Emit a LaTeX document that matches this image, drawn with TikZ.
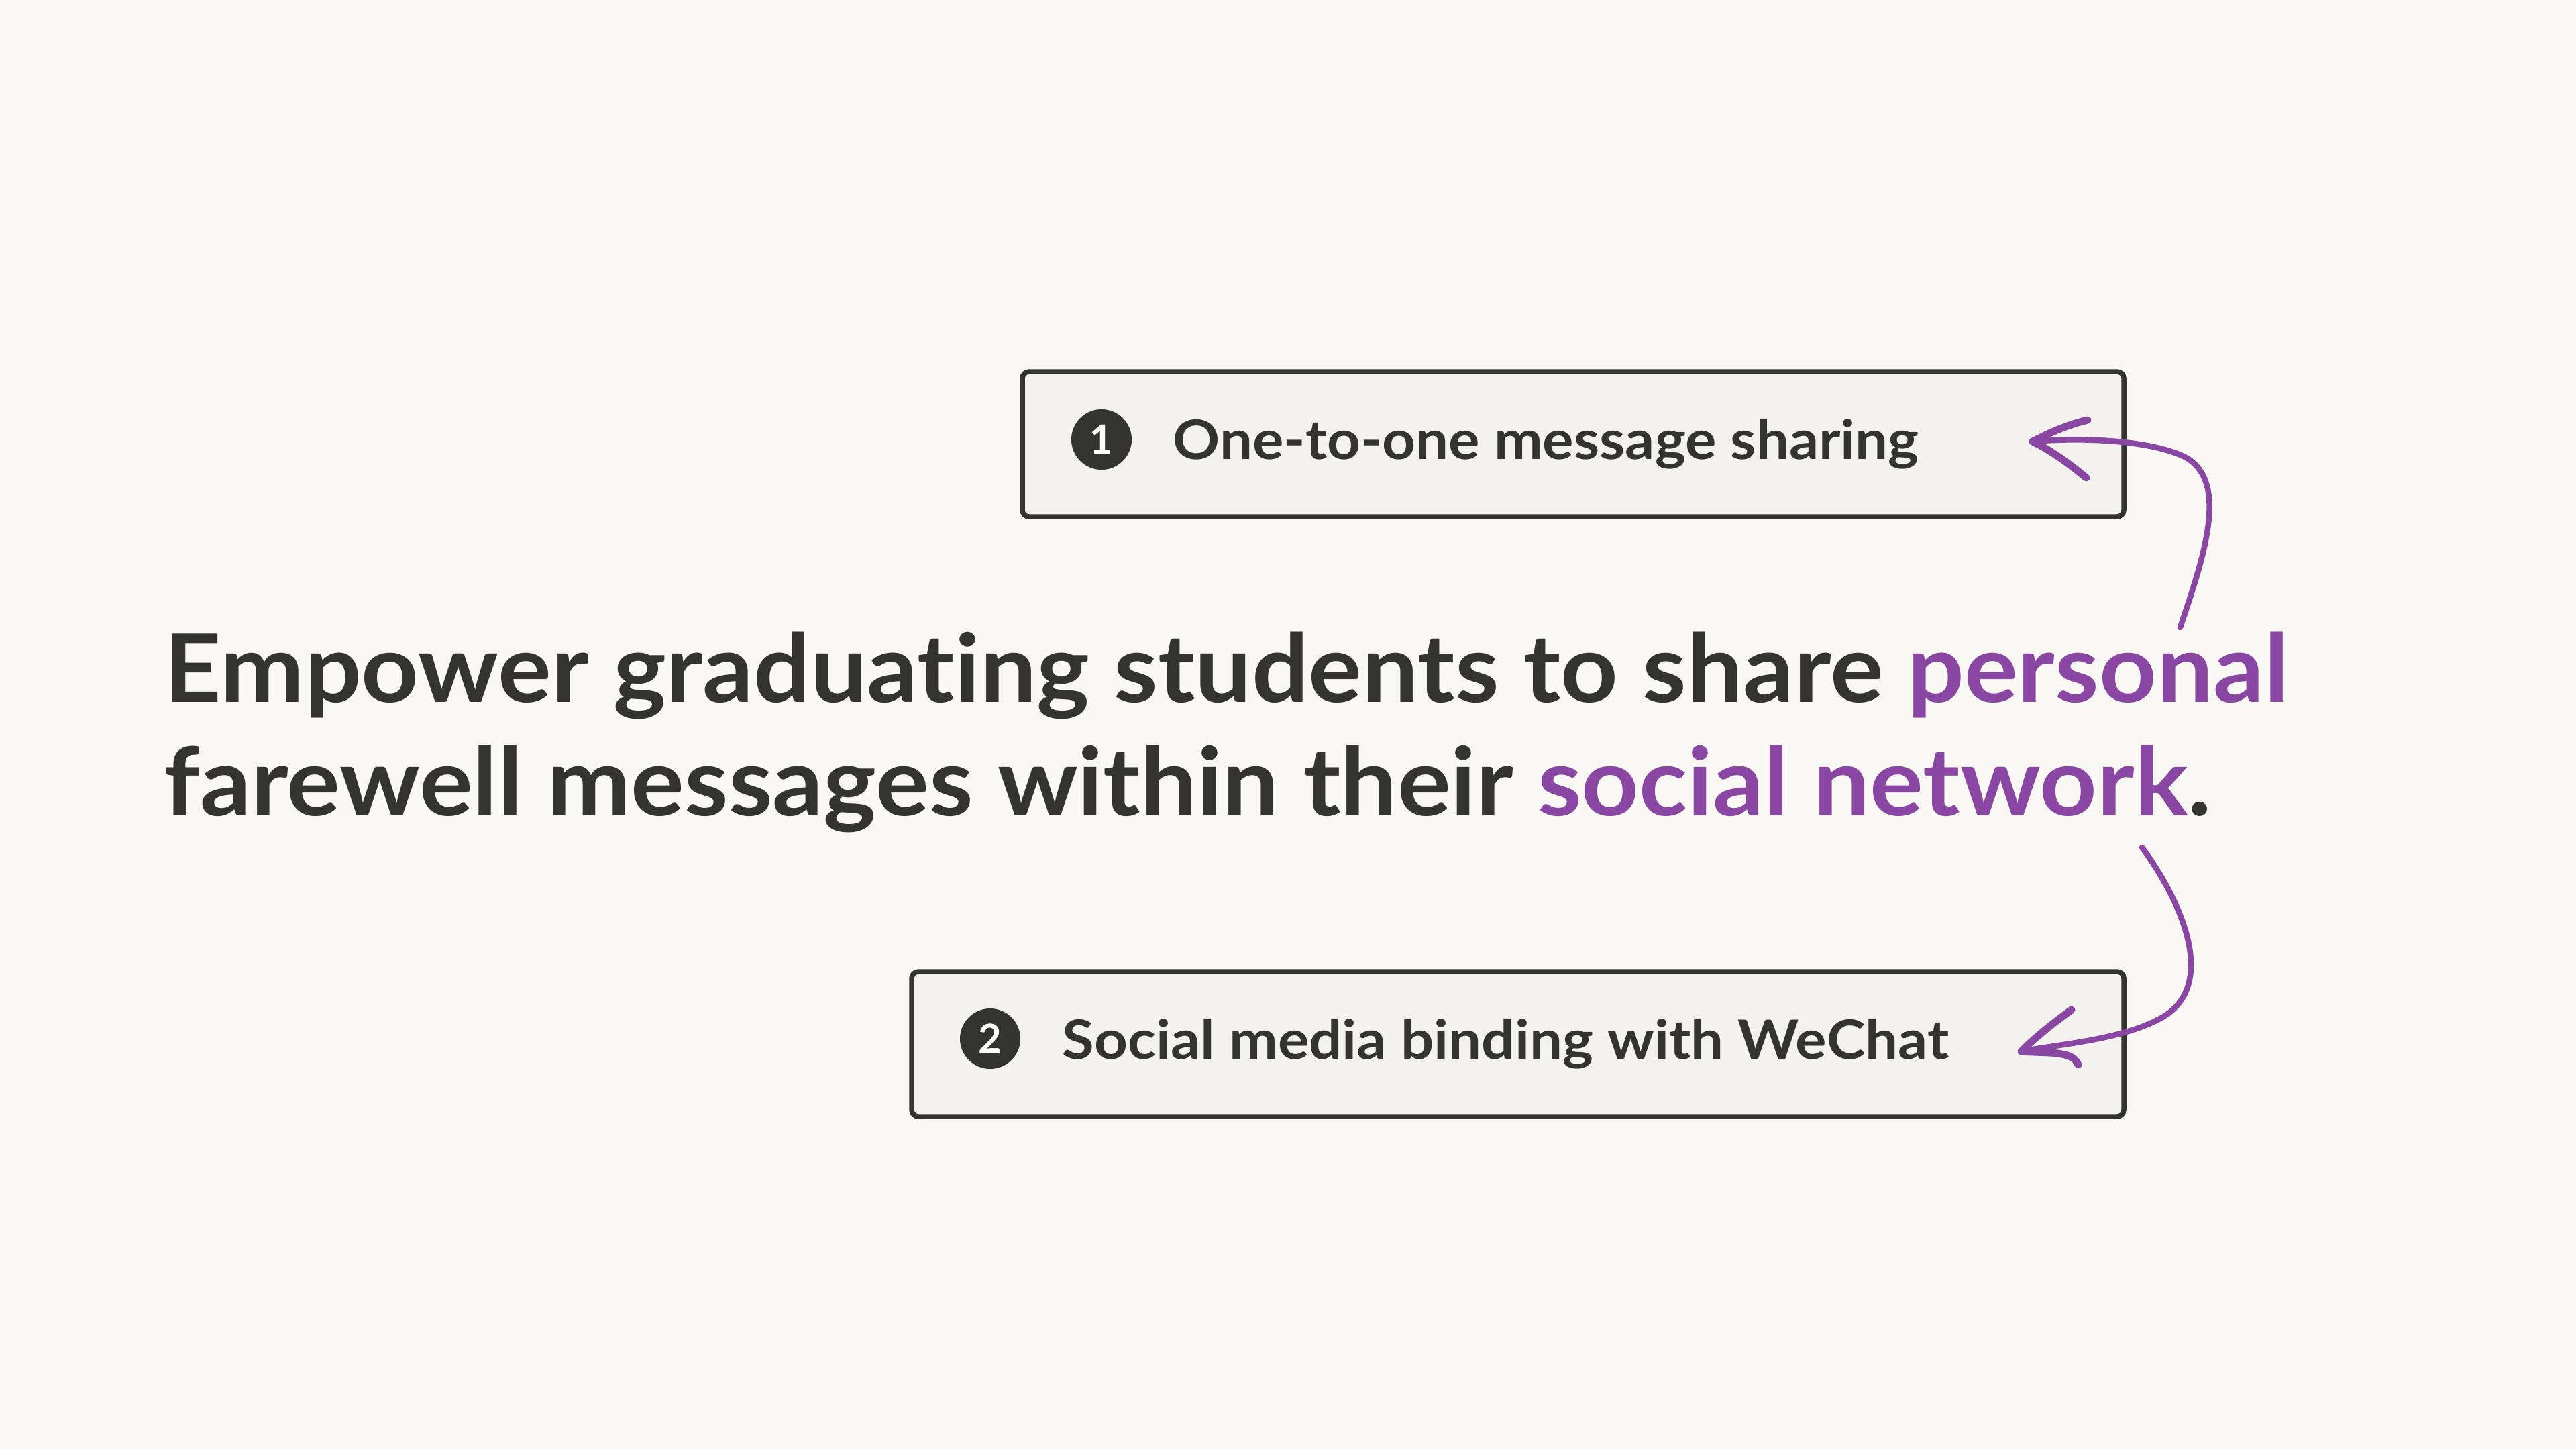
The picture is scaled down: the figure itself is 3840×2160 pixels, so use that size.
\documentclass[tikz,border=0pt]{standalone}
\usepackage{fontspec}
\setmainfont{Lato}[Ligatures=NoCommon]
\definecolor{bg}{HTML}{F9F8F5}
\definecolor{boxfill}{HTML}{F3F2EE}
\definecolor{ink}{HTML}{333330}
\definecolor{accent}{HTML}{8A46A3}
\newcommand{\wide}[1]{\scalebox{1.075}[1]{#1}}
\newcommand{\headwide}[1]{\scalebox{1.062}[1]{#1}}
\tikzset{
  featurebox/.style={draw=ink, line width=0.075cm, fill=boxfill, rounded corners=0.1cm},
  numdot/.style={circle, fill=ink, minimum size=0.9cm, inner sep=0pt, text=white, font=\fontsize{17}{20}\selectfont\bfseries},
  boxlabel/.style={anchor=base west, inner sep=0pt, text=ink, font=\fontsize{23}{27}\selectfont\bfseries},
  headline/.style={anchor=base west, inner sep=0pt, text=ink, font=\fontsize{40}{48}\selectfont\bfseries},
  curvearrow/.style={draw=accent, line width=0.085cm, line cap=round, line join=round},
  arrowtip/.style={draw=accent, line width=0.11cm, line cap=round, line join=round},
}
\begin{document}
\begin{tikzpicture}[x=0.01cm, y=-0.01cm]
\fill[bg] (0,0) rectangle (3840,2160);
\useasboundingbox (0,0) rectangle (3840,2160);
% boxes
\path[featurebox] (1524,554) rectangle (3166,770);
\path[featurebox] (1359,1448) rectangle (3166,1664);
\node[numdot] (n1) at (1642,655) {1};
\node[boxlabel] (t1) at (1748,684) {\wide{One-to-one message sharing}};
\node[numdot] (n2) at (1476,1548) {2};
\node[boxlabel] (t2) at (1583,1578) {\wide{Social media binding with WeChat}};
% headline
\node[headline] (h1) at (244,1046) {\headwide{Empower graduating students to share \textcolor{accent}{personal}}};
\node[headline] (h2) at (244,1215) {\headwide{farewell messages within their \textcolor{accent}{social network}.}};
% arrow 1
\coordinate (a1s) at (3250,935);
\coordinate (a1e) at (3030,658);
\path[curvearrow] (a1s) .. controls (3285,830) and (3325,715) .. (3255,680) .. controls (3200,655) and (3100,652) .. (a1e);
\path[arrowtip] (3112,626) .. controls (3075,635) and (3050,648) .. (a1e) .. controls (3065,675) and (3095,700) .. (3110,712);
% arrow 2
\coordinate (a2s) at (3193,1263);
\coordinate (a2e) at (3013,1567);
\path[curvearrow] (a2s) .. controls (3250,1340) and (3310,1470) .. (3220,1518) .. controls (3160,1550) and (3070,1556) .. (a2e);
\path[arrowtip] (3088,1505) .. controls (3060,1525) and (3035,1545) .. (a2e) .. controls (3050,1570) and (3090,1565) .. (3098,1587);
\end{tikzpicture}
\end{document}
